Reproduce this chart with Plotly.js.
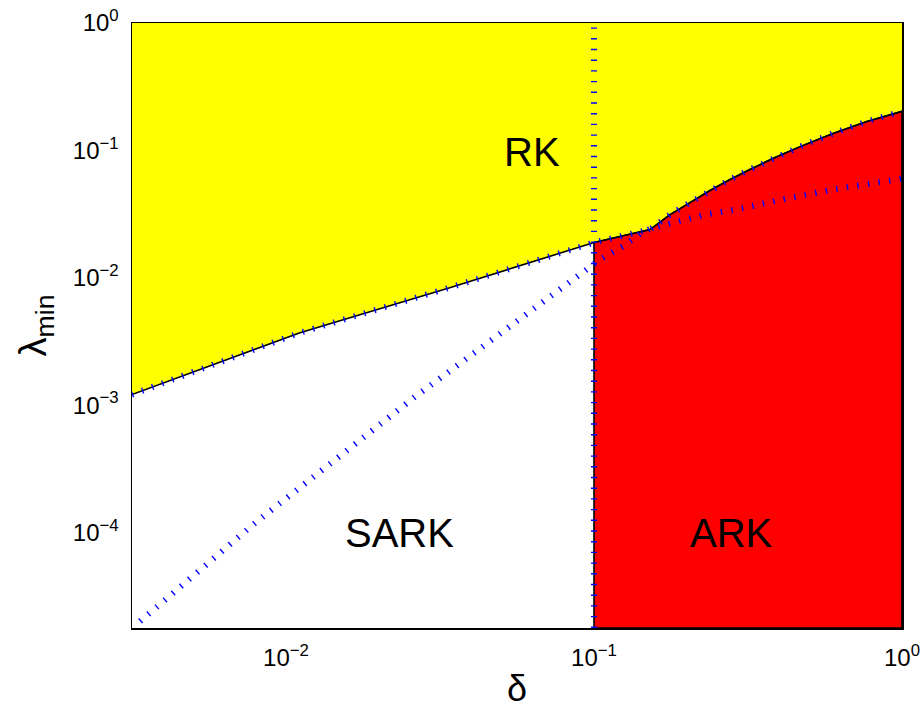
<!DOCTYPE html>
<html>
<head>
<meta charset="utf-8">
<script src="https://cdn.plot.ly/plotly-3.0.1.min.js"></script>
<style>html,body{margin:0;padding:0;background:#fff;}#chart{width:922px;height:709px;}</style>
</head>
<body>
<div id="chart"></div>
<script>
// Axis limits (data units)
const deltaMin = Math.pow(10, -2.5);
const deltaMax = 1;
const lambdaMin = Math.pow(10, -4.75);
const lambdaMax = 1;
const deltaSplit = 0.1;

// Upper stability boundary (black line, blue dotted overlay)
const deltaBoundary  = [0.00316, 0.0111, 0.034, 0.1, 0.152, 0.1766, 0.205, 0.238, 0.2767, 0.3206, 0.3873, 0.4667, 0.597, 0.769, 1.0];
const lambdaBoundary = [0.00121, 0.0037, 0.00836, 0.0189, 0.0239, 0.0313, 0.0389, 0.0484, 0.0590, 0.0708, 0.0879, 0.107, 0.1358, 0.1687, 0.2024];

// Lower dotted curve
const deltaDotted  = [0.00336, 0.00793, 0.0262, 0.0948, 0.1045, 0.124, 0.143, 0.154, 0.194, 0.229, 0.314, 0.365, 0.597, 1.0];
const lambdaDotted = [2.01e-5, 1.186e-4, 1.16e-3, 0.0120, 0.01387, 0.0176, 0.0226, 0.0245, 0.0286, 0.0313, 0.0356, 0.0389, 0.0493, 0.060];

// Tick labels
const xTickVals = [0.01, 0.1, 1];
const xTickText = ['10<sup>−2</sup>', '10<sup>−1</sup>', '10<sup>0</sup>'];
const yTickVals = [1e-4, 1e-3, 1e-2, 1e-1, 1];
const yTickText = ['10<sup>−4</sup>', '10<sup>−3</sup>', '10<sup>−2</sup>', '10<sup>−1</sup>', '10<sup>0</sup>'];

// Region labels
const regionNames = ['RK', 'SARK', 'ARK'];

// Build polygons from the boundary
const leftX = [], leftY = [], rightX = [], rightY = [];
deltaBoundary.forEach((d, i) => {
  if (d <= deltaSplit) { leftX.push(d); leftY.push(lambdaBoundary[i]); }
  if (d >= deltaSplit) { rightX.push(d); rightY.push(lambdaBoundary[i]); }
});

const whitePoly = {
  x: leftX.concat([deltaSplit, deltaMin]),
  y: leftY.concat([lambdaMin, lambdaMin]),
  type: 'scatter', mode: 'lines', fill: 'toself', fillcolor: '#ffffff',
  line: {width: 0}, hoverinfo: 'skip', showlegend: false
};
const redPoly = {
  x: [deltaSplit].concat(rightX, [deltaMax, deltaSplit]),
  y: [lambdaMin].concat(rightY, [lambdaMin, lambdaMin]),
  type: 'scatter', mode: 'lines', fill: 'toself', fillcolor: '#ff0000',
  line: {width: 1.6, color: '#000000'}, hoverinfo: 'skip', showlegend: false
};
const boundaryBlack = {
  x: deltaBoundary, y: lambdaBoundary, type: 'scatter', mode: 'lines',
  line: {width: 1.6, color: '#000000'}, hoverinfo: 'skip', showlegend: false
};
const dashStyle = '1.4px,9.3px';
const boundaryBlue = {
  x: deltaBoundary, y: lambdaBoundary, type: 'scatter', mode: 'lines',
  line: {width: 6, color: '#0000ff', dash: dashStyle}, hoverinfo: 'skip', showlegend: false
};
const dottedBlue = {
  x: deltaDotted, y: lambdaDotted, type: 'scatter', mode: 'lines',
  line: {width: 6, color: '#0000ff', dash: dashStyle}, hoverinfo: 'skip', showlegend: false
};
const verticalBlue = {
  x: [deltaSplit, deltaSplit], y: [lambdaMin, lambdaMax], type: 'scatter', mode: 'lines',
  line: {width: 6, color: '#0000ff', dash: dashStyle}, hoverinfo: 'skip', showlegend: false
};

const annFont = {family: 'Liberation Sans, Arial, sans-serif', size: 40, color: '#000'};
const layout = {
  width: 922, height: 709,
  margin: {l: 132, r: 20, t: 23, b: 81},
  paper_bgcolor: '#ffffff',
  plot_bgcolor: '#ffff00',
  showlegend: false,
  font: {family: 'Liberation Sans, Arial, sans-serif', color: '#000'},
  xaxis: {
    type: 'log', range: [-2.5, 0],
    tickvals: xTickVals, ticktext: xTickText,
    tickfont: {size: 24}, ticks: '', ticklabelstandoff: 8,
    ticklabeloverflow: 'allow',
    showgrid: false, zeroline: false,
    showline: true, mirror: true, linecolor: '#000', linewidth: 1.5,
    title: {text: 'δ', font: {size: 36}, standoff: 5}
  },
  yaxis: {
    type: 'log', range: [-4.75, 0],
    tickvals: yTickVals, ticktext: yTickText,
    tickfont: {size: 24}, ticks: '', ticklabelstandoff: 7,
    ticklabeloverflow: 'allow',
    showgrid: false, zeroline: false,
    showline: true, mirror: true, linecolor: '#000', linewidth: 1.5,
    title: {text: 'λ<sub>min</sub>', font: {size: 38}, standoff: 14}
  },
  annotations: [
    {x: -1.201, y: -1.009, text: regionNames[0], showarrow: false, font: annFont, xref: 'x', yref: 'y'},
    {x: -1.633, y: -4.004, text: regionNames[1], showarrow: false, font: annFont, xref: 'x', yref: 'y'},
    {x: -0.555, y: -4.004, text: regionNames[2], showarrow: false, font: annFont, xref: 'x', yref: 'y'}
  ]
};

Plotly.newPlot('chart', [whitePoly, redPoly, boundaryBlack, boundaryBlue, dottedBlue, verticalBlue], layout, {displayModeBar: false, staticPlot: true});
</script>
</body>
</html>
